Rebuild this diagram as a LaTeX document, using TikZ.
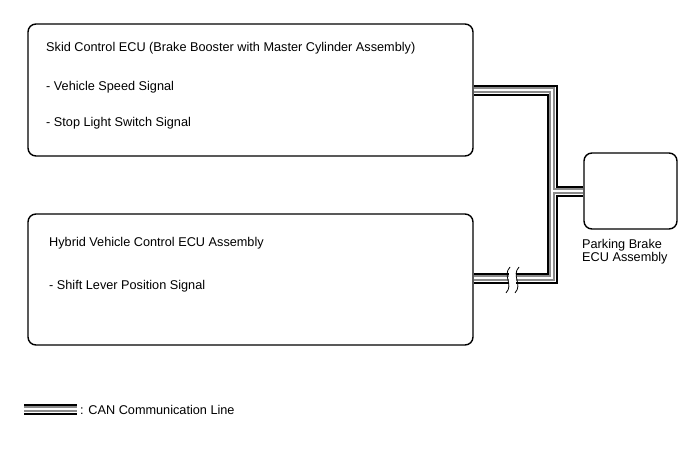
\documentclass[tikz,border=0pt]{standalone}
\usepackage{fontspec}
\setmainfont{Liberation Sans}
\usetikzlibrary{positioning,calc}
\definecolor{busgray}{HTML}{8A8A8A}
\tikzset{
  % --- ECU boxes ---
  ecubox/.style={draw=black, line width=1.4pt, rounded corners=8pt,
                 inner sep=0pt},
  ecutext/.style={anchor=base west, inner sep=0pt,
                  font=\fontsize{12.7}{13}\selectfont},
  % --- break mark on the bus ---
  busbreak/.style={draw=black, line width=0.8pt},
}
% CAN bus: black outer lines, two gray inner lines
\newcommand{\canbus}[1]{%
  \foreach \w/\c in {11/black,7/white,5.2/busgray,2.8/white}
    \draw[line width=\w pt, draw=\c, line join=miter] #1;}

\begin{document}
\begin{tikzpicture}[x=1pt, y=-1pt]
  \useasboundingbox (0,0) rectangle (688,463);

  % --- ECU boxes ---
  \node[ecubox, minimum width=445pt, minimum height=132pt] (skid)   at (250.5,90) {};
  \node[ecubox, minimum width=445pt, minimum height=131pt] (hybrid) at (250.5,279.5) {};
  \node[ecubox, minimum width=93pt,  minimum height=76pt]  (pkb)    at (630.5,191) {};

  % --- box texts ---
  \node[ecutext] (skidtitle) at (46,51) {Skid Control ECU (Brake Booster with Master Cylinder Assembly)};
  \node[ecutext] (skidsig1)  at (46,90) {- Vehicle Speed Signal};
  \node[ecutext] (skidsig2)  at (46,126) {- Stop Light Switch Signal};
  \node[ecutext] (hybtitle)  at (49,246) {Hybrid Vehicle Control ECU Assembly};
  \node[ecutext] (hybsig1)   at (49,289) {- Shift Lever Position Signal};
  \node[ecutext, align=left, font=\fontsize{12.7}{12.5}\selectfont] (pkbtext) at (582,261)
        {Parking Brake\\ECU Assembly};

  % --- CAN bus ---
  \coordinate (jtop) at (552,90);
  \coordinate (jmid) at (552,191);
  \coordinate (jbot) at (552,278);
  \canbus{(skid.east |- jtop) -- (jtop) -- (jbot) -- (hybrid.east |- jbot)
          (jmid) -- (pkb.west |- jmid)}

  % --- break in the bus to Hybrid ECU ---
  \fill[white] (509,271) rectangle (516,285);
  \draw[busbreak] (510,267) .. controls (502,276) and (514,284) .. (506,293);
  \draw[busbreak] (519,267) .. controls (511,276) and (523,284) .. (515,293);

  % --- legend ---
  \coordinate (lgfrom) at (24,409);
  \coordinate (lgto)   at (77,409);
  \canbus{(lgfrom) -- (lgto)}
  \node[ecutext] (lgtext) at (80,414) {: CAN Communication Line};
\end{tikzpicture}
\end{document}
